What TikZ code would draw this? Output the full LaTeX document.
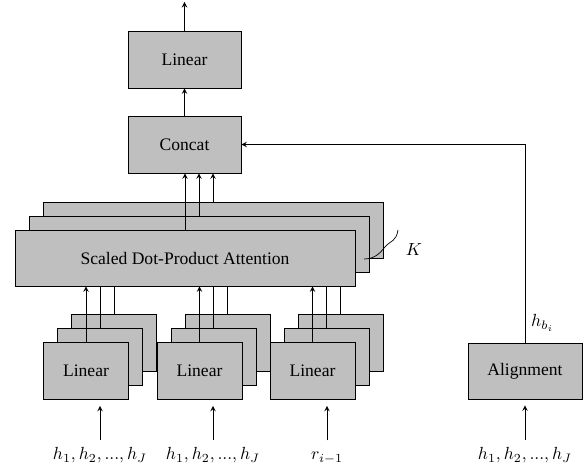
\documentclass[tikz,border=0pt]{standalone}
\usepackage{fontspec}
\setmainfont{Liberation Serif}
\usetikzlibrary{calc}
\tikzset{>=stealth}
\tikzset{blk/.style={draw,fill=gray!50,inner sep=0pt},
  lbl/.style={anchor=base,text height=7pt,text depth=2.5pt,inner sep=4pt}}

\begin{document}
\begin{tikzpicture}
\useasboundingbox (0,0) rectangle (11.66,9.36);
\node[blk,minimum width=2.26cm,minimum height=1.14cm] (O) at (3.69,8.17) {Linear};
\node[blk,minimum width=2.26cm,minimum height=1.14cm] (C) at (3.69,6.47) {Concat};
\coordinate (out) at (3.69,9.32);
\draw[->] (C) -- (O);
\draw[->] (O) -- (out);
% attention heads
\node[blk,minimum width=6.8cm,minimum height=1.12cm] (A3) at (4.26,4.76) {};
\node[blk,minimum width=6.8cm,minimum height=1.12cm] (A2) at (3.98,4.48) {};
\node[blk,minimum width=6.8cm,minimum height=1.12cm] (A1) at (3.70,4.20) {Scaled Dot-Product Attention};
\draw[->] (A1.north) -- (A1.north |- C.south);
\draw[->] (A2.north) -- (A2.north |- C.south);
\draw[->] (A3.north) -- (A3.north |- C.south);
\draw (7.28,4.18) .. controls (7.50,4.18) and (7.60,4.30) .. (7.70,4.42) .. controls (7.82,4.56) and (7.92,4.52) .. (7.96,4.76);
\node (K) at (8.28,4.36) {$K$};
% linear projections
\node[blk,minimum width=1.7cm,minimum height=1.14cm] (L1c) at (2.28,2.50) {};
\node[blk,minimum width=1.7cm,minimum height=1.14cm] (L1b) at (2.00,2.22) {};
\node[blk,minimum width=1.7cm,minimum height=1.14cm] (L1a) at (1.72,1.94) {Linear};
\node[blk,minimum width=1.7cm,minimum height=1.14cm] (L2c) at (4.55,2.50) {};
\node[blk,minimum width=1.7cm,minimum height=1.14cm] (L2b) at (4.27,2.22) {};
\node[blk,minimum width=1.7cm,minimum height=1.14cm] (L2a) at (3.99,1.94) {Linear};
\node[blk,minimum width=1.7cm,minimum height=1.14cm] (L3c) at (6.81,2.50) {};
\node[blk,minimum width=1.7cm,minimum height=1.14cm] (L3b) at (6.53,2.22) {};
\node[blk,minimum width=1.7cm,minimum height=1.14cm] (L3a) at (6.25,1.94) {Linear};
\draw[->] (L1a.north) -- (L1a.north |- A1.south);
\draw (L1b.north) -- (L1b.north |- A1.south);
\draw (L1c.north) -- (L1c.north |- A1.south);
\draw[->] (L2a.north) -- (L2a.north |- A1.south);
\draw (L2b.north) -- (L2b.north |- A1.south);
\draw (L2c.north) -- (L2c.north |- A1.south);
\draw[->] (L3a.north) -- (L3a.north |- A1.south);
\draw (L3b.north) -- (L3b.north |- A1.south);
\draw (L3c.north) -- (L3c.north |- A1.south);
% inputs
\node[lbl] (x1) at (2.00,0.16) {$h_1, h_2, ..., h_J$};
\node[lbl] (x2) at (4.26,0.16) {$h_1, h_2, ..., h_J$};
\node[lbl] (x3) at (6.54,0.16) {$r_{i-1}$};
\node[lbl] (x4) at (10.50,0.16) {$h_1, h_2, ..., h_J$};
\draw[->,shorten >=0.12cm] (x1.north) -- (x1.north |- L1a.south);
\draw[->,shorten >=0.12cm] (x2.north) -- (x2.north |- L2a.south);
\draw[->,shorten >=0.12cm] (x3.north) -- (x3.north |- L3a.south);
% alignment
\node[blk,minimum width=2.28cm,minimum height=1.12cm] (AL) at (10.50,1.94) {Alignment};
\draw[->,shorten >=0.12cm] (x4.north) -- (AL.south);
\draw[->] (AL.north) |- node[pos=0.05,right] {$h_{b_i}$} (C.east);
\end{tikzpicture}
\end{document}
